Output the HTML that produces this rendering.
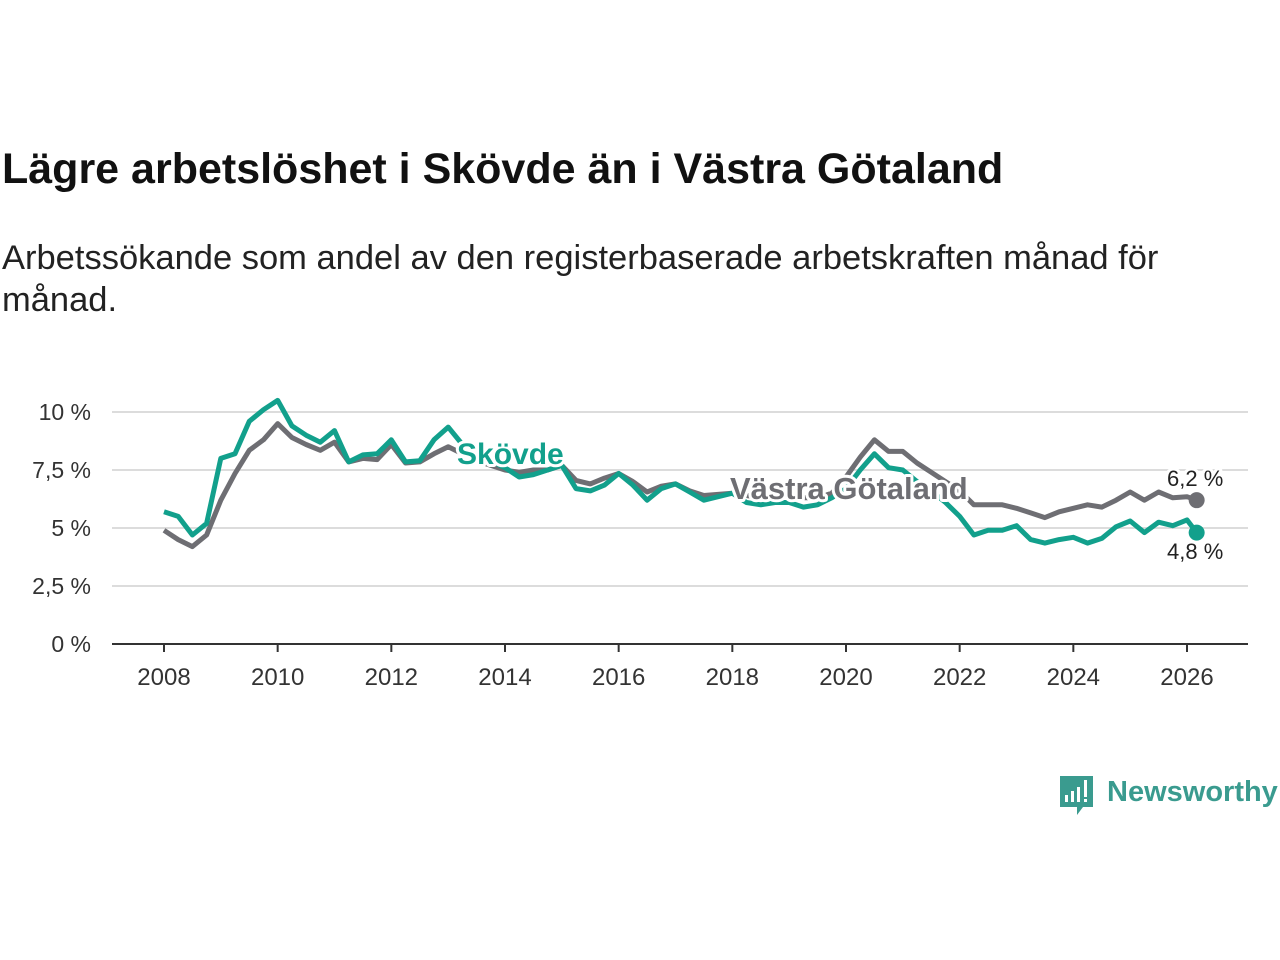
<!DOCTYPE html>
<html><head><meta charset="utf-8">
<style>
body{margin:0;background:#fff;width:1280px;height:960px;overflow:hidden;font-family:"Liberation Sans",sans-serif;}
#title{position:absolute;left:2px;top:145px;font-size:43px;font-weight:bold;color:#111;margin:0;white-space:nowrap;}
#sub{position:absolute;left:2px;top:237px;font-size:34.5px;color:#222;line-height:42px;width:1200px;margin:0;}
svg{position:absolute;left:0;top:0;}
</style></head><body>
<h1 id="title">Lägre arbetslöshet i Skövde än i Västra Götaland</h1>
<p id="sub">Arbetssökande som andel av den registerbaserade arbetskraften månad för månad.</p>
<svg width="1280" height="960" id="chart"></svg>
<script>
const yearTicks=[2008,2010,2012,2014,2016,2018,2020,2022,2024,2026];
const yTicks=[0,2.5,5,7.5,10];
const yTickLabels=["0 %","2,5 %","5 %","7,5 %","10 %"];
const skovde=[5.7,5.5,4.7,5.2,8.0,8.2,9.6,10.1,10.5,9.4,9.0,8.7,9.2,7.85,8.15,8.2,8.8,7.85,7.9,8.8,9.35,8.6,8.1,7.9,7.6,7.2,7.3,7.5,7.7,6.7,6.6,6.85,7.35,6.85,6.2,6.7,6.9,6.55,6.2,6.35,6.5,6.1,6.0,6.1,6.1,5.9,6.0,6.3,6.7,7.5,8.2,7.6,7.5,7.0,6.6,6.1,5.5,4.7,4.9,4.9,5.1,4.5,4.35,4.5,4.6,4.35,4.55,5.05,5.3,4.8,5.25,5.1,5.35,4.8];
const vgr=[4.9,4.5,4.2,4.7,6.2,7.35,8.35,8.8,9.5,8.9,8.6,8.35,8.7,7.85,8.0,7.95,8.6,7.8,7.85,8.2,8.5,8.2,7.9,7.7,7.5,7.4,7.5,7.5,7.7,7.05,6.9,7.15,7.35,7.0,6.55,6.8,6.9,6.6,6.4,6.45,6.5,6.4,6.3,6.4,6.4,6.3,6.3,6.5,7.2,8.05,8.8,8.3,8.3,7.8,7.4,7.0,6.6,6.0,6.0,6.0,5.85,5.65,5.45,5.7,5.85,6.0,5.9,6.2,6.55,6.2,6.55,6.3,6.35,6.2];
const dates=skovde.map((_,i)=>i<73?2008+i*0.25:2026.17);
const svg=document.getElementById('chart');
const NS='http://www.w3.org/2000/svg';
const X=y=>164+(y-2008)*(1187-164)/18;
const Y=v=>644-v*23.2;
function mk(t,a,txt){const e=document.createElementNS(NS,t);for(const k in a)e.setAttribute(k,a[k]);if(txt!==undefined)e.textContent=txt;svg.appendChild(e);return e;}
yTicks.forEach((v,i)=>{
 if(v>0){const g=mk('line',{x1:112,x2:1248,y1:Y(v),y2:Y(v),stroke:'#dcdcdc','stroke-width':2});
 
 }
 const t=mk('text',{x:91,y:Y(v)+8,'text-anchor':'end','font-size':23,fill:'#333'},yTickLabels[i]);
 
 
});
const ax=mk('line',{x1:112,x2:1248,y1:644,y2:644,stroke:'#333','stroke-width':2});


yearTicks.forEach(yr=>{
 const tk=mk('line',{x1:X(yr),x2:X(yr),y1:644,y2:652,stroke:'#333','stroke-width':2});
 
 
 const t=mk('text',{x:X(yr),y:685,'text-anchor':'middle','font-size':24,fill:'#333'},yr);
 
 
});
function line(arr,col,name){
 const d=arr.map((v,i)=>(i?'L':'M')+X(dates[i]).toFixed(1)+','+Y(v).toFixed(1)).join('');
 const p=mk('path',{d:d,fill:'none',stroke:col,'stroke-width':5,'stroke-linejoin':'round'});
 
 
 const n=arr.length-1;
 const c=mk('circle',{cx:X(dates[n]),cy:Y(arr[n]),r:8,fill:col});
 
 
}
line(vgr,'#6e6e73','vastra-gotaland');
line(skovde,'#12a08c','skovde');
function lab(x,y,txt,col,size,bold,name){
 const t=mk('text',{x:x,y:y,'font-size':size,'font-weight':bold?'bold':'normal',fill:col,stroke:'#fff','stroke-width':6,'paint-order':'stroke','stroke-linejoin':'round'},txt);
 
 
}
lab(457,464,'Skövde','#12a08c',30,true,'skovde-label');
lab(730,499,'Västra Götaland','#6e6e73',31,true,'vastra-gotaland-label');
lab(1167,486,'6,2 %','#222',22,false,'vgr-value-label');
lab(1167,559,'4,8 %','#222',22,false,'skovde-value-label');
const g=mk('g',{});


g.innerHTML='<path d="M1060 776h33v31h-10l-6 8v-8h-17z" fill="#3a9b8f"/><rect x="1065" y="795" width="3" height="7" fill="#fff"/><rect x="1071" y="791" width="3" height="11" fill="#fff"/><rect x="1077" y="787" width="3" height="15" fill="#fff"/><rect x="1084" y="780" width="3" height="17" fill="#fff"/><rect x="1084" y="799" width="3" height="3" fill="#fff"/><text x="1107" y="801" font-size="29" font-weight="bold" fill="#3a9b8f">Newsworthy</text>';
</script>
</body></html>
